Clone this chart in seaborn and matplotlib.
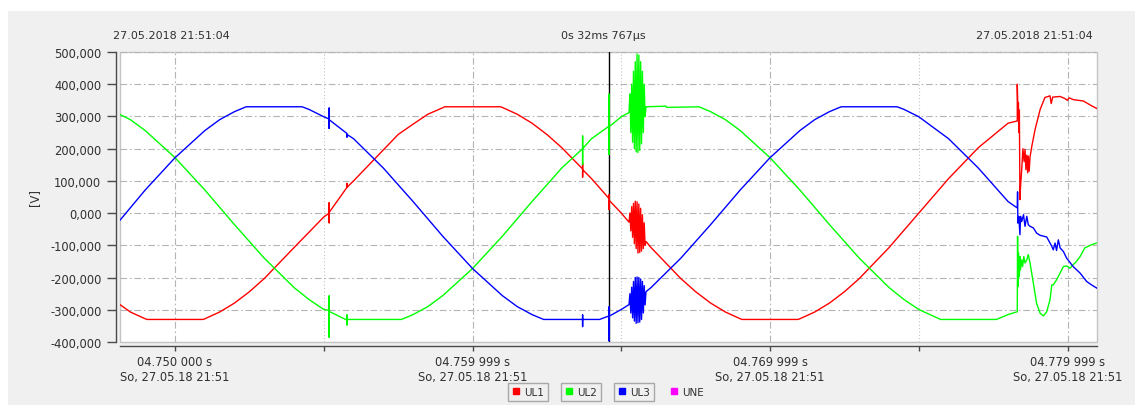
import matplotlib
matplotlib.use("Agg")
import matplotlib.pyplot as plt
import pandas as pd
import seaborn as sns
from matplotlib.lines import Line2D
from matplotlib.patches import Rectangle
from matplotlib.ticker import FixedLocator, FuncFormatter

# time in ms after 04.750 000 s, voltage in V
burst_t = [15.26, 15.29, 15.32, 15.35, 15.38, 15.41, 15.44, 15.47, 15.50, 15.53,
           15.56, 15.59, 15.62, 15.65, 15.68, 15.71, 15.74, 15.77, 15.80, 15.83]

red_t = ([-1.85, -1.5, -1.0, -0.94, 0.94, 1.0, 1.5, 2.0, 2.5, 3.0, 4.0, 5.0,
          5.18, 5.18, 5.18, 5.18, 5.78, 5.78, 5.78,
          6.0, 7.0, 7.5, 8.0, 8.5, 9.0, 9.06, 10.94, 11.0, 11.5, 12.0, 12.5, 13.0,
          13.7, 13.7, 13.7, 13.7, 14.0, 14.59, 14.59, 14.59, 14.59, 15.0]
         + burst_t
         + [16.0, 17.0, 17.5, 18.0, 18.5, 19.0, 19.06, 20.94, 21.0, 21.5, 22.0, 22.5,
            23.0, 24.0, 25.0, 26.0, 27.0, 28.0, 28.31,
            28.31, 28.33, 28.35, 28.36, 28.38, 28.40, 28.42, 28.46, 28.50, 28.54,
            28.57, 28.60, 28.63, 28.66, 28.68, 28.71, 28.74, 28.80, 28.91, 29.08,
            29.24, 29.35, 29.41, 29.45, 29.50, 29.75, 29.90, 30.00, 30.05, 30.20,
            30.53, 30.81, 31.04])
red_v = ([-284, -307, -328, -330, -330, -328, -307, -279, -244, -203, -107, -12,
          0, 32, -30, 2, 80, 92, 80,
          100, 196, 244, 276, 307, 327, 330, 330, 328, 307, 279, 244, 203,
          137, 155, 112, 135, 107, 45, 57, 11, 40, 0]
         + [-28, 0, -55, 20, -75, 30, -95, 37, -110, 35,
            -124, 28, -122, 15, -118, -5, -110, -30, -100, -88]
         + [-107, -203, -244, -279, -307, -328, -330, -330, -328, -307, -279, -244,
            -203, -107, 0, 107, 203, 279, 286,
            400, 330, 343, 250, 320, 42, 83, 136, 200, 160,
            198, 135, 180, 125, 177, 130, 175, 208, 260, 322,
            359, 362, 364, 340, 360, 362, 356, 350, 358, 352,
            348, 333, 322])

green_t = ([-1.85, -1.5, -1.0, 0.0, 1.0, 2.0, 3.0, 4.0, 4.5, 5.0,
            5.18, 5.18, 5.18, 5.18, 5.73, 5.78, 5.78, 5.78, 5.78,
            7.61, 8.0, 8.5, 9.0, 10.0, 11.0, 12.0, 13.0,
            13.7, 13.7, 13.7, 13.7, 14.0, 14.59, 14.59, 14.59, 14.59, 15.0]
           + burst_t
           + [16.5, 16.52, 17.61, 18.0, 18.5, 19.0, 20.0, 21.0, 22.0, 23.0, 24.0,
              24.5, 25.0, 25.73, 27.61, 28.0, 28.31,
              28.32, 28.33, 28.35, 28.38, 28.40, 28.42, 28.46, 28.49, 28.53, 28.57,
              28.63, 28.68, 28.74, 28.85, 28.96, 29.08, 29.19, 29.30, 29.41, 29.47,
              29.52, 29.63, 29.75, 29.86, 29.97, 30.08, 30.19, 30.30, 30.42, 30.58,
              30.81, 31.04])
green_v = ([306, 290, 256, 172, 72, -36, -140, -231, -268, -299,
            -302, -257, -385, -305, -330, -330, -316, -347, -330,
            -330, -315, -290, -256, -172, -72, 36, 140,
            200, 239, 151, 200, 231, 270, 369, 182, 268, 299]
           + [312, 370, 250, 400, 220, 440, 200, 470, 190, 494,
              188, 490, 195, 470, 215, 440, 250, 400, 300, 330]
           + [332, 328, 330, 315, 290, 256, 172, 72, -36, -140, -231,
              -268, -299, -330, -330, -315, -306,
              -72, -228, -124, -197, -135, -176, -145, -166, -135, -155,
              -145, -129, -155, -217, -280, -311, -319, -306, -269, -223,
              -223, -207, -186, -166, -164, -171, -160, -150, -135, -108,
              -98, -91])

blue_t = ([-1.85, -1.0, 0.0, 1.0, 1.5, 2.0, 2.39, 4.27, 4.5, 5.0,
           5.18, 5.18, 5.18, 5.18, 5.78, 5.78, 5.78,
           6.0, 7.0, 8.0, 9.0, 10.0, 11.0, 11.5, 12.0, 12.39,
           13.7, 13.7, 13.7, 13.7, 14.27, 14.59, 14.59, 14.59, 14.59, 15.0]
          + burst_t
          + [16.0, 17.0, 18.0, 19.0, 20.0, 21.0, 21.5, 22.0, 22.39, 24.27, 24.5,
             25.0, 26.0, 27.0, 28.0, 28.31,
             28.32, 28.33, 28.36, 28.40, 28.42, 28.46, 28.52, 28.57, 28.63, 28.68,
             28.74, 28.85, 28.96, 29.08, 29.30, 29.47, 29.52, 29.58, 29.63, 29.69,
             29.75, 29.86, 29.97, 30.19, 30.42, 30.64, 30.81, 31.04])
blue_v = ([-22, 72, 172, 256, 290, 315, 330, 330, 322, 299,
           292, 326, 263, 290, 247, 236, 244,
           231, 140, 36, -72, -172, -256, -290, -315, -330,
           -330, -316, -352, -330, -330, -319, -291, -396, -320, -299]
          + [-284, -250, -310, -230, -325, -212, -335, -200, -342, -198,
             -340, -200, -338, -205, -330, -212, -310, -225, -285, -244]
          + [-231, -140, -36, 72, 172, 256, 290, 315, 330, 330, 322,
             299, 231, 140, 36, 16,
             66, -31, -10, -67, -10, -26, -5, -41, -10, -36,
             -41, -46, -62, -69, -74, -103, -114, -93, -116, -83,
             -108, -119, -140, -166, -186, -212, -223, -236])

cursor_ms = 14.59
x_ticks = [0, 10, 20, 30]
x_minor = [5, 15, 25]
x_labels = ["04.750 000 s\nSo, 27.05.18 21:51",
            "04.759 999 s\nSo, 27.05.18 21:51",
            "04.769 999 s\nSo, 27.05.18 21:51",
            "04.779 999 s\nSo, 27.05.18 21:51"]
y_ticks = [-400, -300, -200, -100, 0, 100, 200, 300, 400, 500]
channels = ["UL1", "UL2", "UL3", "UNE"]
colors = {"UL1": "#ff0000", "UL2": "#00ff00", "UL3": "#0000ff", "UNE": "#ff00ff"}

df = pd.concat([
    pd.DataFrame({"t_ms": red_t, "volt": red_v, "phase": "UL1"}),
    pd.DataFrame({"t_ms": green_t, "volt": green_v, "phase": "UL2"}),
    pd.DataFrame({"t_ms": blue_t, "volt": blue_v, "phase": "UL3"}),
], ignore_index=True)

sns.set_style("white")
plt.rcParams["font.family"] = ["DejaVu Sans"]

W, H = 1135, 406
fig = plt.figure(figsize=(W / 100, H / 100), dpi=100, facecolor="white")
fig.add_artist(Rectangle((8 / W, 0), 1, 1 - 12 / H, transform=fig.transFigure,
                         facecolor="#f0f0f0", edgecolor="none", zorder=-10))
ax = fig.add_axes([120 / W, 1 - 343 / H, (1097 - 120) / W, (343 - 53) / H])
ax.set_facecolor("white")

sns.lineplot(data=df, x="t_ms", y="volt", hue="phase", palette=colors,
             hue_order=["UL1", "UL2", "UL3"], sort=False, estimator=None,
             errorbar=None, linewidth=1.0, legend=False, ax=ax)
ax.axvline(cursor_ms, color="black", linewidth=1.0, zorder=1.5)

ax.set_xlim(-1.85, 30.99)
ax.set_ylim(-400, 500)
ax.set_xticks(x_ticks, labels=x_labels)
ax.xaxis.set_minor_locator(FixedLocator(x_minor))
ax.set_yticks(y_ticks)
ax.yaxis.set_major_formatter(FuncFormatter(lambda v, p: f"{v:.3f}".replace(".", ",")))
ax.set_xlabel("")
ax.set_ylabel("")

ax.set_axisbelow(True)
ax.grid(True, which="major", axis="both", color="#b4b4b4", linewidth=0.8,
        linestyle=(0, (6, 2.5, 1.5, 2.5)))
ax.grid(True, which="minor", axis="x", color="#c4c4c4", linewidth=0.8,
        linestyle=(0, (1, 2)))

for s in ["top", "right"]:
    ax.spines[s].set_visible(False)
ax.spines["left"].set_position(("outward", 2.9))
ax.spines["bottom"].set_position(("outward", 2.7))
for s in ["left", "bottom"]:
    ax.spines[s].set_color("#4a4a4a")
    ax.spines[s].set_linewidth(1.0)
ax.patch.set_edgecolor("#c4c4c4")
ax.patch.set_linewidth(1.0)

ax.tick_params(axis="y", which="major", left=True, direction="out", length=6.5,
               width=1.0, color="#4a4a4a", labelsize=8.3, labelcolor="#303030", pad=4)
ax.tick_params(axis="x", which="both", bottom=True, direction="out", length=3.6,
               width=1.0, color="#4a4a4a", labelsize=8.3, labelcolor="#303030", pad=3)

fig.text(35 / W, 1 - 198 / H, "[V]", rotation=90, ha="center", va="center",
         fontsize=8.3, color="#303030")
fig.text(113 / W, 1 - 36 / H, "27.05.2018 21:51:04", ha="left", va="center",
         fontsize=8, color="#303030")
fig.text(603 / W, 1 - 36 / H, "0s 32ms 767µs", ha="center", va="center",
         fontsize=8, color="#303030")
fig.text(1093 / W, 1 - 36 / H, "27.05.2018 21:51:04", ha="right", va="center",
         fontsize=8, color="#303030")

# channel buttons under the plot
for i, name in enumerate(channels):
    handle = Line2D([], [], marker="s", linestyle="none", markersize=5,
                    color=colors[name])
    boxed = name != "UNE"
    fig.legend([handle], [name], loc="center",
               bbox_to_anchor=((528 + 53 * i) / W, 1 - 393 / H),
               frameon=boxed, fancybox=False, edgecolor="#a8a8a8",
               facecolor="#f0f0f0", framealpha=1, fontsize=7.5,
               handlelength=0.8, handletextpad=0.4, borderpad=0.35,
               labelcolor="#303030")

fig.savefig("out.png", dpi=100, facecolor=fig.get_facecolor())
